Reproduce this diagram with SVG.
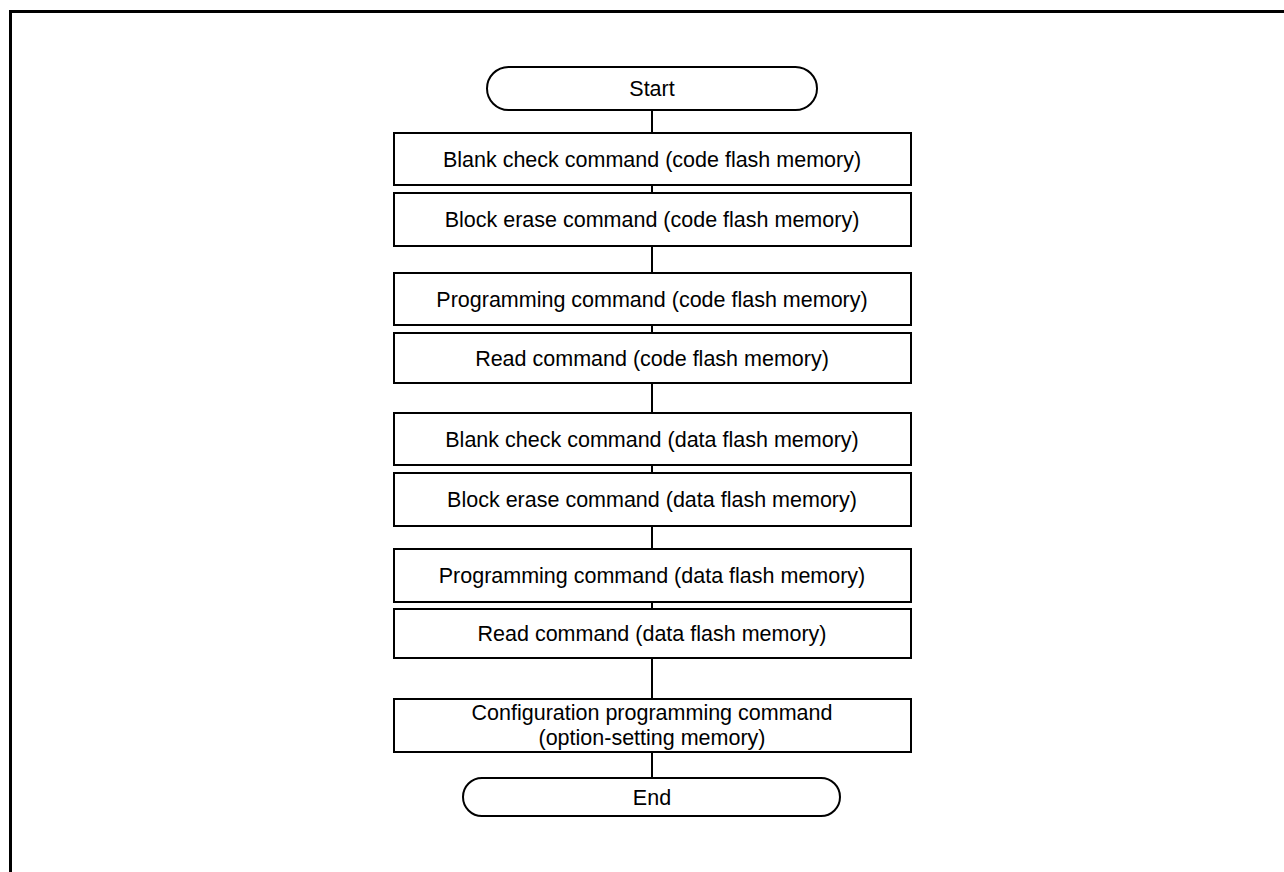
<svg xmlns="http://www.w3.org/2000/svg" width="1284" height="872" viewBox="0 0 1284 872">
<style>
.box{fill:#fff;stroke:#000;stroke-width:2}
.t{font-family:"Liberation Sans",Arial,sans-serif;font-size:21.5px;fill:#000;text-anchor:middle}
.c{stroke:#000;stroke-width:2;fill:none}
</style>
<rect x="0" y="0" width="1284" height="872" fill="#fff"/>
<g id="frame"><path d="M10.5 872 V11.5 H1284" fill="none" stroke="#000" stroke-width="3"/></g>
<g id="connectors">
<line class="c" x1="652" y1="110" x2="652" y2="133"/>
<line class="c" x1="652" y1="185" x2="652" y2="193"/>
<line class="c" x1="652" y1="246" x2="652" y2="273"/>
<line class="c" x1="652" y1="325" x2="652" y2="333"/>
<line class="c" x1="652" y1="383" x2="652" y2="413"/>
<line class="c" x1="652" y1="465" x2="652" y2="473"/>
<line class="c" x1="652" y1="526" x2="652" y2="549"/>
<line class="c" x1="652" y1="602" x2="652" y2="609"/>
<line class="c" x1="652" y1="658" x2="652" y2="699"/>
<line class="c" x1="652" y1="752" x2="652" y2="778"/>
</g>
<g id="start"><rect class="box" x="487" y="67" width="330" height="43" rx="21.5"/><text class="t" x="652" y="96">Start</text></g>
<g id="n1"><rect class="box" x="394" y="133" width="517" height="52"/><text class="t" x="652" y="166.5">Blank check command (code flash memory)</text></g>
<g id="n2"><rect class="box" x="394" y="193" width="517" height="53"/><text class="t" x="652" y="227">Block erase command (code flash memory)</text></g>
<g id="n3"><rect class="box" x="394" y="273" width="517" height="52"/><text class="t" x="652" y="306.5">Programming command (code flash memory)</text></g>
<g id="n4"><rect class="box" x="394" y="333" width="517" height="50"/><text class="t" x="652" y="365.5">Read command (code flash memory)</text></g>
<g id="n5"><rect class="box" x="394" y="413" width="517" height="52"/><text class="t" x="652" y="446.5">Blank check command (data flash memory)</text></g>
<g id="n6"><rect class="box" x="394" y="473" width="517" height="53"/><text class="t" x="652" y="507">Block erase command (data flash memory)</text></g>
<g id="n7"><rect class="box" x="394" y="549" width="517" height="53"/><text class="t" x="652" y="583">Programming command (data flash memory)</text></g>
<g id="n8"><rect class="box" x="394" y="609" width="517" height="49"/><text class="t" x="652" y="641">Read command (data flash memory)</text></g>
<g id="n9"><rect class="box" x="394" y="699" width="517" height="53"/><text class="t" x="652" y="720">Configuration programming command</text><text class="t" x="652" y="745">(option-setting memory)</text></g>
<g id="end"><rect class="box" x="463" y="778" width="377" height="38" rx="19"/><text class="t" x="652" y="805">End</text></g>
</svg>
